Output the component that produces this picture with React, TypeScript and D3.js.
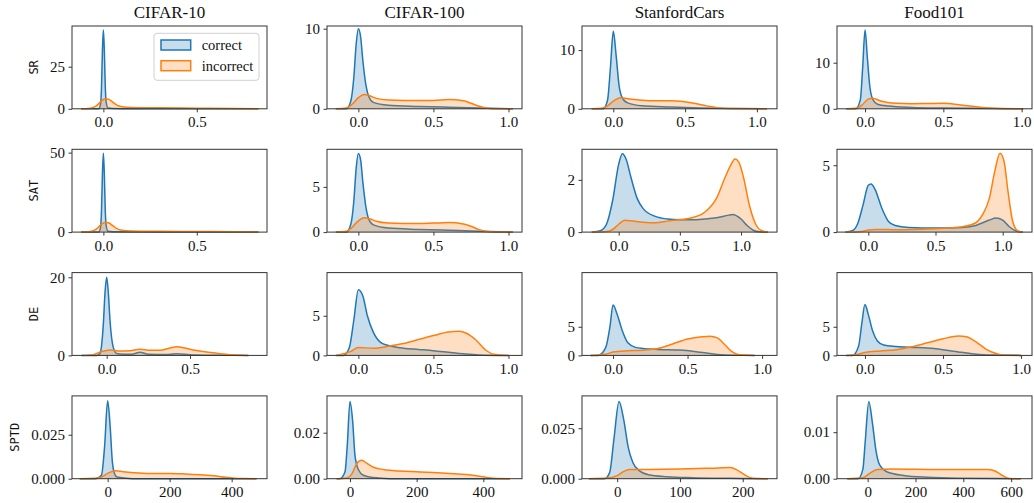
import React, { useRef, useEffect } from 'react';
import * as d3 from 'd3';

type Pt = [number, number];

const datasets = ['CIFAR-10', 'CIFAR-100', 'StanfordCars', 'Food101'];
const metrics = ['SR', 'SAT', 'DE', 'SPTD'];
const seriesNames = ['correct', 'incorrect'];
const seriesColors = ['#1f77b4', '#ff7f0e'];

// ---- SR row: density curves [value, density]
const srCifar10Correct: Pt[] = [[-0.12, 0], [-0.025, 0], [-0.015, 3], [-0.01, 13], [-0.005, 35], [0, 46.8], [0.005, 35], [0.01, 14], [0.015, 4], [0.025, 0.5], [0.05, 0.2], [0.1, 0.1], [0.3, 0.05], [0.83, 0]];
const srCifar10Incorrect: Pt[] = [[-0.12, 0], [-0.08, 0.2], [-0.05, 1], [-0.03, 2.5], [-0.01, 4.8], [0.01, 6], [0.03, 5.6], [0.05, 4], [0.07, 2.3], [0.1, 1.2], [0.15, 0.8], [0.3, 0.6], [0.5, 0.4], [0.7, 0.2], [0.83, 0]];
const srCifar100Correct: Pt[] = [[-0.15, 0], [-0.08, 0], [-0.05, 1], [-0.03, 4], [-0.015, 8], [0, 10], [0.015, 9], [0.03, 6], [0.05, 3], [0.07, 1.5], [0.1, 0.8], [0.2, 0.45], [0.4, 0.3], [0.6, 0.2], [0.8, 0.1], [1.03, 0]];
const srCifar100Incorrect: Pt[] = [[-0.15, 0], [-0.08, 0.1], [-0.04, 0.6], [0, 1.4], [0.04, 1.8], [0.08, 1.6], [0.12, 1.3], [0.2, 1.1], [0.3, 1.05], [0.4, 1.05], [0.5, 1.05], [0.6, 1.15], [0.7, 1.0], [0.75, 0.7], [0.8, 0.35], [0.85, 0.1], [0.9, 0.02], [1.03, 0]];
const srCarsCorrect: Pt[] = [[-0.15, 0], [-0.07, 0], [-0.04, 1.5], [-0.02, 7], [0, 13.2], [0.02, 9], [0.04, 4], [0.06, 2], [0.1, 1], [0.2, 0.5], [0.4, 0.3], [0.6, 0.15], [0.8, 0.05], [1.07, 0]];
const srCarsIncorrect: Pt[] = [[-0.15, 0], [-0.08, 0.1], [-0.04, 0.5], [0, 1.3], [0.05, 1.9], [0.1, 1.7], [0.2, 1.45], [0.3, 1.35], [0.4, 1.35], [0.47, 1.3], [0.55, 1.0], [0.65, 0.5], [0.72, 0.2], [0.8, 0.05], [1.07, 0]];
const srFoodCorrect: Pt[] = [[-0.12, 0], [-0.06, 0], [-0.03, 2], [-0.015, 9], [0, 17.1], [0.015, 11], [0.03, 5], [0.05, 2], [0.08, 1], [0.15, 0.6], [0.3, 0.3], [0.5, 0.15], [0.8, 0.05], [1.01, 0]];
const srFoodIncorrect: Pt[] = [[-0.12, 0], [-0.06, 0.1], [-0.02, 0.8], [0.02, 2.1], [0.05, 2.3], [0.1, 1.7], [0.2, 1.2], [0.3, 1.1], [0.4, 1.15], [0.5, 1.2], [0.6, 0.9], [0.7, 0.5], [0.8, 0.15], [0.9, 0.02], [1.01, 0]];

// ---- SAT row
const satCifar10Correct: Pt[] = [[-0.12, 0], [-0.025, 0], [-0.015, 3], [-0.01, 14], [-0.005, 37], [0, 49.6], [0.005, 37], [0.01, 14], [0.015, 4], [0.025, 0.5], [0.05, 0.2], [0.3, 0.05], [0.83, 0]];
const satCifar10Incorrect: Pt[] = [[-0.12, 0], [-0.08, 0.2], [-0.05, 1.1], [-0.03, 2.7], [-0.01, 5], [0.01, 6.2], [0.03, 5.7], [0.05, 4.1], [0.07, 2.3], [0.1, 1.1], [0.15, 0.7], [0.3, 0.5], [0.5, 0.35], [0.7, 0.2], [0.83, 0]];
const satCifar100Correct: Pt[] = [[-0.15, 0], [-0.08, 0], [-0.05, 0.9], [-0.03, 3.5], [-0.015, 7], [0, 8.7], [0.015, 8], [0.03, 5.5], [0.05, 2.8], [0.07, 1.4], [0.1, 0.8], [0.2, 0.45], [0.4, 0.3], [0.6, 0.2], [0.8, 0.1], [1.03, 0]];
const satCifar100Incorrect: Pt[] = [[-0.15, 0], [-0.08, 0.1], [-0.04, 0.55], [0, 1.25], [0.04, 1.6], [0.08, 1.45], [0.12, 1.2], [0.2, 1.0], [0.3, 0.95], [0.4, 0.95], [0.5, 1.0], [0.6, 1.05], [0.7, 0.9], [0.75, 0.65], [0.8, 0.3], [0.85, 0.1], [0.9, 0.02], [1.03, 0]];
const satCarsCorrect: Pt[] = [[-0.22, 0], [-0.15, 0.05], [-0.1, 0.3], [-0.05, 1.2], [0, 2.6], [0.03, 3.0], [0.06, 2.8], [0.1, 2.1], [0.15, 1.3], [0.2, 0.9], [0.3, 0.6], [0.4, 0.5], [0.5, 0.47], [0.6, 0.47], [0.7, 0.5], [0.8, 0.55], [0.9, 0.65], [0.93, 0.67], [1.0, 0.5], [1.05, 0.25], [1.1, 0.07], [1.15, 0.01], [1.22, 0]];
const satCarsIncorrect: Pt[] = [[-0.22, 0], [-0.1, 0.02], [-0.05, 0.1], [0, 0.3], [0.05, 0.45], [0.1, 0.43], [0.2, 0.38], [0.3, 0.36], [0.4, 0.42], [0.5, 0.48], [0.6, 0.55], [0.7, 0.75], [0.8, 1.3], [0.87, 2.1], [0.92, 2.6], [0.95, 2.8], [0.98, 2.7], [1.02, 2.1], [1.07, 1.0], [1.12, 0.3], [1.17, 0.05], [1.22, 0]];
const satFoodCorrect: Pt[] = [[-0.17, 0], [-0.12, 0.1], [-0.08, 0.6], [-0.04, 2.0], [0, 3.5], [0.02, 3.6], [0.05, 3.2], [0.1, 1.8], [0.15, 0.8], [0.2, 0.5], [0.3, 0.35], [0.5, 0.3], [0.7, 0.35], [0.8, 0.5], [0.9, 0.9], [0.95, 1.05], [1.0, 0.9], [1.05, 0.4], [1.1, 0.08], [1.15, 0]];
const satFoodIncorrect: Pt[] = [[-0.17, 0], [-0.05, 0.05], [0, 0.15], [0.05, 0.2], [0.2, 0.18], [0.4, 0.22], [0.6, 0.3], [0.7, 0.4], [0.8, 0.7], [0.85, 1.3], [0.9, 2.5], [0.94, 4.5], [0.98, 5.9], [1.01, 5.3], [1.04, 3.0], [1.07, 1.0], [1.1, 0.2], [1.13, 0.02], [1.15, 0]];

// ---- DE row
const deCifar10Correct: Pt[] = [[-0.15, 0], [-0.06, 0], [-0.04, 0.5], [-0.02, 8], [-0.01, 16], [0, 20], [0.01, 16], [0.02, 9], [0.04, 2], [0.06, 0.5], [0.1, 0.3], [0.15, 0.3], [0.2, 0.8], [0.25, 0.3], [0.35, 0.2], [0.42, 0.4], [0.5, 0.15], [0.6, 0.05], [0.85, 0]];
const deCifar10Incorrect: Pt[] = [[-0.15, 0], [-0.08, 0.2], [-0.03, 1.0], [0.02, 1.4], [0.08, 1.1], [0.14, 1.2], [0.2, 1.6], [0.26, 1.3], [0.32, 1.3], [0.38, 1.9], [0.42, 2.2], [0.47, 1.9], [0.53, 1.3], [0.6, 0.9], [0.67, 0.5], [0.75, 0.15], [0.85, 0]];
const deCifar100Correct: Pt[] = [[-0.15, 0], [-0.1, 0], [-0.06, 1], [-0.03, 4.5], [0, 8.3], [0.03, 7.5], [0.06, 5], [0.1, 2.9], [0.15, 1.6], [0.2, 1.25], [0.3, 0.9], [0.4, 0.75], [0.5, 0.6], [0.6, 0.4], [0.7, 0.2], [0.8, 0.06], [1.0, 0]];
const deCifar100Incorrect: Pt[] = [[-0.15, 0], [-0.05, 0.5], [0, 1.0], [0.1, 0.9], [0.2, 1.15], [0.3, 1.5], [0.4, 2.0], [0.5, 2.5], [0.6, 2.95], [0.67, 3.05], [0.72, 2.8], [0.78, 2.0], [0.85, 0.65], [0.9, 0.15], [1.0, 0]];
const deCarsCorrect: Pt[] = [[-0.15, 0], [-0.1, 0], [-0.05, 1.3], [-0.02, 5.1], [0, 8.8], [0.03, 7], [0.06, 4.5], [0.1, 2.2], [0.15, 1.4], [0.2, 1.2], [0.3, 1.05], [0.45, 0.95], [0.6, 0.5], [0.7, 0.17], [0.8, 0.03], [0.95, 0]];
const deCarsIncorrect: Pt[] = [[-0.15, 0], [-0.05, 0.2], [0, 0.6], [0.1, 0.8], [0.2, 0.9], [0.3, 1.2], [0.4, 2.0], [0.5, 2.85], [0.6, 3.25], [0.65, 3.35], [0.7, 3.05], [0.75, 1.85], [0.8, 0.6], [0.85, 0.1], [0.95, 0]];
const deFoodCorrect: Pt[] = [[-0.12, 0], [-0.08, 0], [-0.04, 1.7], [-0.02, 5.6], [0, 8.9], [0.02, 7.3], [0.05, 4.2], [0.08, 2.5], [0.12, 1.8], [0.2, 1.55], [0.3, 1.4], [0.4, 1.3], [0.5, 1.0], [0.6, 0.6], [0.7, 0.25], [0.8, 0.05], [1.0, 0]];
const deFoodIncorrect: Pt[] = [[-0.12, 0], [-0.05, 0.17], [0, 0.5], [0.1, 0.77], [0.2, 1.0], [0.3, 1.5], [0.4, 2.2], [0.5, 2.9], [0.6, 3.4], [0.65, 3.25], [0.72, 2.2], [0.78, 1.0], [0.85, 0.25], [0.9, 0.03], [1.0, 0]];

// ---- SPTD row
const sptdCifar10Correct: Pt[] = [[-90, 0], [-40, 0], [-20, 0.002], [-10, 0.018], [0, 0.0443], [8, 0.03], [15, 0.01], [22, 0.003], [30, 0.001], [60, 0.0003], [100, 0], [480, 0]];
const sptdCifar10Incorrect: Pt[] = [[-90, 0], [-40, 0.0002], [-20, 0.001], [0, 0.003], [25, 0.0045], [50, 0.004], [100, 0.0033], [150, 0.003], [200, 0.003], [250, 0.0027], [300, 0.0022], [350, 0.0015], [380, 0.0008], [410, 0.0003], [440, 0.0001], [480, 0]];
const sptdCifar100Correct: Pt[] = [[-40, 0], [-30, 0], [-15, 0.003], [-8, 0.015], [0, 0.0336], [8, 0.025], [15, 0.01], [25, 0.004], [40, 0.0015], [70, 0.0005], [120, 0], [480, 0]];
const sptdCifar100Incorrect: Pt[] = [[-40, 0], [-10, 0.0003], [5, 0.002], [20, 0.0065], [35, 0.008], [50, 0.0068], [70, 0.005], [100, 0.004], [150, 0.0033], [200, 0.003], [250, 0.0027], [300, 0.0023], [350, 0.0018], [400, 0.0008], [430, 0.0002], [480, 0]];
const sptdCarsCorrect: Pt[] = [[-45, 0], [-20, 0], [-12, 0.003], [-5, 0.02], [3, 0.0382], [10, 0.03], [18, 0.015], [25, 0.008], [35, 0.004], [50, 0.002], [80, 0.001], [120, 0.0005], [180, 0.0002], [240, 0]];
const sptdCarsIncorrect: Pt[] = [[-45, 0], [-15, 0.0003], [0, 0.0015], [10, 0.0035], [20, 0.0045], [50, 0.0046], [100, 0.0048], [150, 0.0052], [180, 0.0055], [190, 0.0045], [200, 0.0025], [210, 0.0008], [220, 0.0001], [240, 0]];
const sptdFoodCorrect: Pt[] = [[-85, 0], [-40, 0], [-20, 0.002], [-10, 0.008], [5, 0.0166], [20, 0.012], [35, 0.006], [50, 0.003], [80, 0.0015], [150, 0.0007], [250, 0.0003], [400, 0.0001], [640, 0]];
const sptdFoodIncorrect: Pt[] = [[-85, 0], [-20, 0.0002], [10, 0.0012], [40, 0.002], [100, 0.0021], [300, 0.002], [450, 0.002], [500, 0.002], [530, 0.0017], [560, 0.0008], [580, 0.0002], [600, 0], [640, 0]];

// axis limits and ticks, one entry per dataset column
const srX = [[-0.168, 0.876], [-0.209, 1.09], [-0.218, 1.14], [-0.179, 1.066]];
const srY = [49.2, 10.34, 14.1, 17.97];
const satX = [[-0.168, 0.876], [-0.209, 1.09], [-0.3, 1.294], [-0.233, 1.218]];
const satY = [52.1, 9.16, 3.17, 6.19];
const deX = [[-0.208, 0.962], [-0.209, 1.09], [-0.208, 1.1], [-0.179, 1.07]];
const deY = [21.2, 10.45, 14.46, 14.46];
const sptdX = [[-115, 514], [-69, 516], [-56, 254.6], [-128, 687]];
const sptdY = [0.0471, 0.036, 0.041, 0.0178];

const fracXTicksNarrow = [0, 0.5];
const fracXTicks = [0, 0.5, 1];
const sptdXTicks = [[0, 200, 400], [0, 200, 400], [0, 100, 200], [0, 200, 400, 600]];

const srYTicks = [[0, 25], [0, 10], [0, 10], [0, 10]];
const satYTicks = [[0, 50], [0, 5], [0, 2], [0, 5]];
const deYTicks = [[0, 20], [0, 5], [0, 5], [0, 5]];
const sptdYTicks = [[0, 0.025], [0, 0.02], [0, 0.025], [0, 0.01]];
const sptdYFormats = ['.3f', '.2f', '.3f', '.2f'];

const rows = [
  { x: srX, y: srY, yt: srYTicks, curves: [[srCifar10Correct, srCifar10Incorrect], [srCifar100Correct, srCifar100Incorrect], [srCarsCorrect, srCarsIncorrect], [srFoodCorrect, srFoodIncorrect]] },
  { x: satX, y: satY, yt: satYTicks, curves: [[satCifar10Correct, satCifar10Incorrect], [satCifar100Correct, satCifar100Incorrect], [satCarsCorrect, satCarsIncorrect], [satFoodCorrect, satFoodIncorrect]] },
  { x: deX, y: deY, yt: deYTicks, curves: [[deCifar10Correct, deCifar10Incorrect], [deCifar100Correct, deCifar100Incorrect], [deCarsCorrect, deCarsIncorrect], [deFoodCorrect, deFoodIncorrect]] },
  { x: sptdX, y: sptdY, yt: sptdYTicks, curves: [[sptdCifar10Correct, sptdCifar10Incorrect], [sptdCifar100Correct, sptdCifar100Incorrect], [sptdCarsCorrect, sptdCarsIncorrect], [sptdFoodCorrect, sptdFoodIncorrect]] },
];

const SERIF = '"Liberation Serif", "Times New Roman", serif';
const MONO = '"DejaVu Sans Mono", monospace';

export default function App() {
  const svgRef = useRef<SVGSVGElement>(null);

  useEffect(() => {
    document.body.style.margin = '0';
    const width = 1034;
    const height = 503;
    const pw = 195;
    const ph = 82.8;
    const left0 = 72;
    const top0 = 26;
    const colStep = 255;
    const rowStep = 123.3;

    const svg = d3.select(svgRef.current);
    svg.selectAll('*').remove();
    svg.attr('width', width).attr('height', height).attr('viewBox', [0, 0, width, height]);
    svg.append('rect').attr('width', width).attr('height', height).attr('fill', 'white');

    rows.forEach((row, r) => {
      datasets.forEach((name, c) => {
        const g = svg.append('g')
          .attr('transform', `translate(${left0 + c * colStep},${top0 + r * rowStep})`);

        const x = d3.scaleLinear().domain(row.x[c]).range([0, pw]);
        const y = d3.scaleLinear().domain([0, row.y[c]]).range([ph, 0]);

        const area = d3.area<Pt>()
          .x(d => x(d[0]))
          .y0(y(0))
          .y1(d => y(d[1]))
          .curve(d3.curveMonotoneX);
        const line = d3.line<Pt>()
          .x(d => x(d[0]))
          .y(d => y(d[1]))
          .curve(d3.curveMonotoneX);

        row.curves[c].forEach((pts, i) => {
          g.append('path').attr('d', area(pts)).attr('fill', seriesColors[i]).attr('fill-opacity', 0.25);
          g.append('path').attr('d', line(pts)).attr('fill', 'none')
            .attr('stroke', seriesColors[i]).attr('stroke-width', 1.5);
        });

        // x axis
        const xt = r === 3 ? sptdXTicks[c] : (c === 0 ? fracXTicksNarrow : fracXTicks);
        const xFmt = r === 3 ? d3.format('d') : d3.format('.1f');
        const gx = g.append('g')
          .attr('transform', `translate(0,${ph})`)
          .call(d3.axisBottom(x).tickValues(xt).tickFormat(d => xFmt(d as number)).tickSize(3.5).tickPadding(4.5));
        gx.select('.domain').remove();

        // y axis
        const yFmt = r === 3 ? d3.format(sptdYFormats[c]) : d3.format('d');
        const gy = g.append('g')
          .call(d3.axisLeft(y).tickValues(row.yt[c]).tickFormat(d => yFmt(d as number)).tickSize(3.5).tickPadding(3.5));
        gy.select('.domain').remove();

        [gx, gy].forEach(a => {
          a.selectAll('line').attr('stroke', '#222').attr('stroke-width', 0.9);
          a.selectAll('text').attr('font-family', SERIF).attr('font-size', 15).attr('fill', '#111');
        });

        g.append('rect')
          .attr('width', pw).attr('height', ph)
          .attr('fill', 'none').attr('stroke', '#333').attr('stroke-width', 1);

        if (r === 0) {
          g.append('text')
            .attr('x', pw / 2).attr('y', -8)
            .attr('text-anchor', 'middle')
            .attr('font-family', SERIF).attr('font-size', 17).attr('fill', '#111')
            .text(name);
        }

        if (c === 0) {
          const box = (gy.node() as SVGGElement).getBBox();
          g.append('text')
            .attr('transform', `translate(${box.x - 12},${ph / 2}) rotate(-90)`)
            .attr('text-anchor', 'middle')
            .attr('font-family', MONO).attr('font-size', 12).attr('fill', '#111')
            .text(metrics[r]);
        }

        if (r === 0 && c === 0) {
          const lw = 105;
          const lh = 47;
          const leg = g.append('g').attr('transform', `translate(${pw - 8 - lw},7.3)`);
          leg.append('rect').attr('width', lw).attr('height', lh).attr('rx', 3)
            .attr('fill', 'white').attr('fill-opacity', 0.8).attr('stroke', '#d0d0d0');
          seriesNames.forEach((s, i) => {
            leg.append('rect')
              .attr('x', 7).attr('y', 6.7 + i * 20.7).attr('width', 29.7).attr('height', 10)
              .attr('fill', seriesColors[i]).attr('fill-opacity', 0.25)
              .attr('stroke', seriesColors[i]).attr('stroke-width', 1.5);
            leg.append('text')
              .attr('x', 47.7).attr('y', 11.7 + i * 20.7).attr('dy', '0.35em')
              .attr('font-family', SERIF).attr('font-size', 14.5).attr('fill', '#111')
              .text(s);
          });
        }
      });
    });
  }, []);

  return <svg ref={svgRef} style={{ display: 'block' }} />;
}
